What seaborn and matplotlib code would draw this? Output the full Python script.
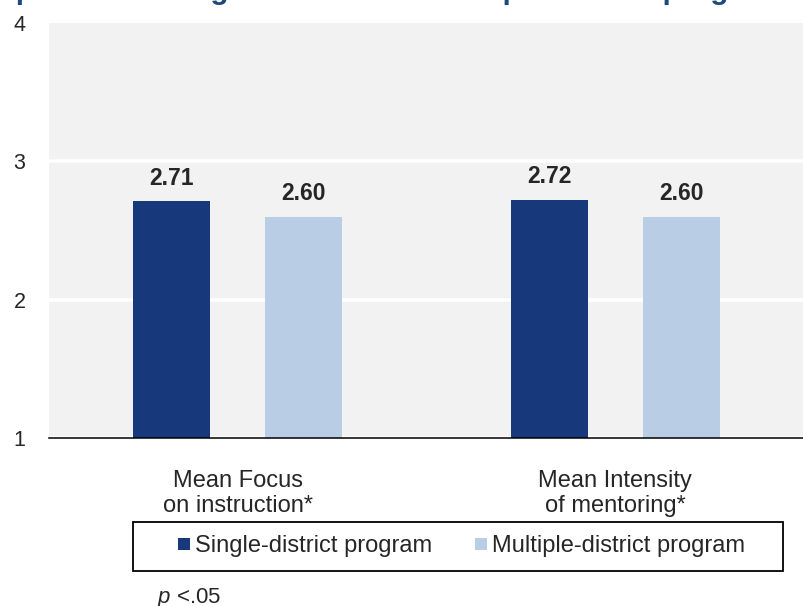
import pandas as pd
import matplotlib.pyplot as plt
import seaborn as sns
from matplotlib.lines import Line2D
from matplotlib.patches import Rectangle

# chart data
measures = ['Mean Focus\non instruction*', 'Mean Intensity\nof mentoring*']
programs = ['Single-district program', 'Multiple-district program']
single_vals = [2.71, 2.72]
multi_vals = [2.60, 2.60]
colors = ['#17397c', '#b9cde5']
title = 'Comparison of single-district and multiple-district programs'
note = r'$p$ <.05'

df = pd.DataFrame({
    'measure': measures * 2,
    'program': [programs[0]] * 2 + [programs[1]] * 2,
    'score': single_vals + multi_vals,
})

sns.set_style('white')
plt.rcParams['font.family'] = ['Liberation Sans', 'DejaVu Sans']
plt.rcParams['mathtext.fontset'] = 'custom'
plt.rcParams['mathtext.it'] = 'Liberation Sans:italic'
plt.rcParams['mathtext.rm'] = 'Liberation Sans'

W, H = 804, 606
fig = plt.figure(figsize=(W / 100, H / 100), dpi=100)
ax = fig.add_axes([49 / W, 1 - 438 / H, (W - 49) / W, (438 - 23) / H])
ax.set_facecolor('#f2f2f2')

sns.barplot(data=df, x='measure', y='score', hue='program', order=measures,
            hue_order=programs, palette=colors, saturation=1, width=0.70,
            gap=0.415, linewidth=0, legend=False, ax=ax)

for c in ax.containers:
    ax.bar_label(c, fmt='%.2f', padding=8.6, fontsize=16.5, fontweight='bold')

# y axis
ax.set_ylim(1, 4)
ax.set_yticks([1, 2, 3, 4])
ax.yaxis.grid(True, color='white', linewidth=2.6)
ax.get_ygridlines()[-1].set_visible(False)
ax.set_axisbelow(True)
ax.tick_params(axis='y', length=0, pad=17, labelsize=15.5)

# x axis
ax.set_xlim(-0.5, 1.475)
ax.set_xticks([-0.5, 0, 0.5, 1, 1.5])
ax.set_xticklabels(['', measures[0], '', measures[1], ''])
ax.tick_params(axis='x', direction='in', length=3.8, width=1.1, pad=22.7,
               labelsize=17, color='black')
ax.set_xlabel('')
ax.set_ylabel('')

for s in ['left', 'top', 'right']:
    ax.spines[s].set_visible(False)
ax.spines['bottom'].set_color('black')
ax.spines['bottom'].set_linewidth(1.1)

# legend with its own box
handles = [Line2D([], [], marker='s', linestyle='none', markersize=8.6,
                  markerfacecolor=col, markeredgewidth=0) for col in colors]
fig.legend(handles, programs, loc='center', ncol=2, frameon=False,
           bbox_to_anchor=(461 / W, 1 - 546 / H), fontsize=17,
           handlelength=0.6, handletextpad=0.17, columnspacing=1.78)
fig.add_artist(Rectangle((133.3 / W, 1 - 570.7 / H), 649.4 / W, 49 / H,
                         transform=fig.transFigure, fill=False,
                         edgecolor='black', linewidth=1.3))

# title (mostly cut off at the top edge) and note
fig.text(-50 / W, 1 + 1 / H, title, fontsize=21.3, fontweight='bold',
         color='#1f497d', ha='left', va='baseline')
fig.text(156.7 / W, 1 - 602.5 / H, note, fontsize=16, va='baseline')

fig.savefig('out.png', dpi=100)
